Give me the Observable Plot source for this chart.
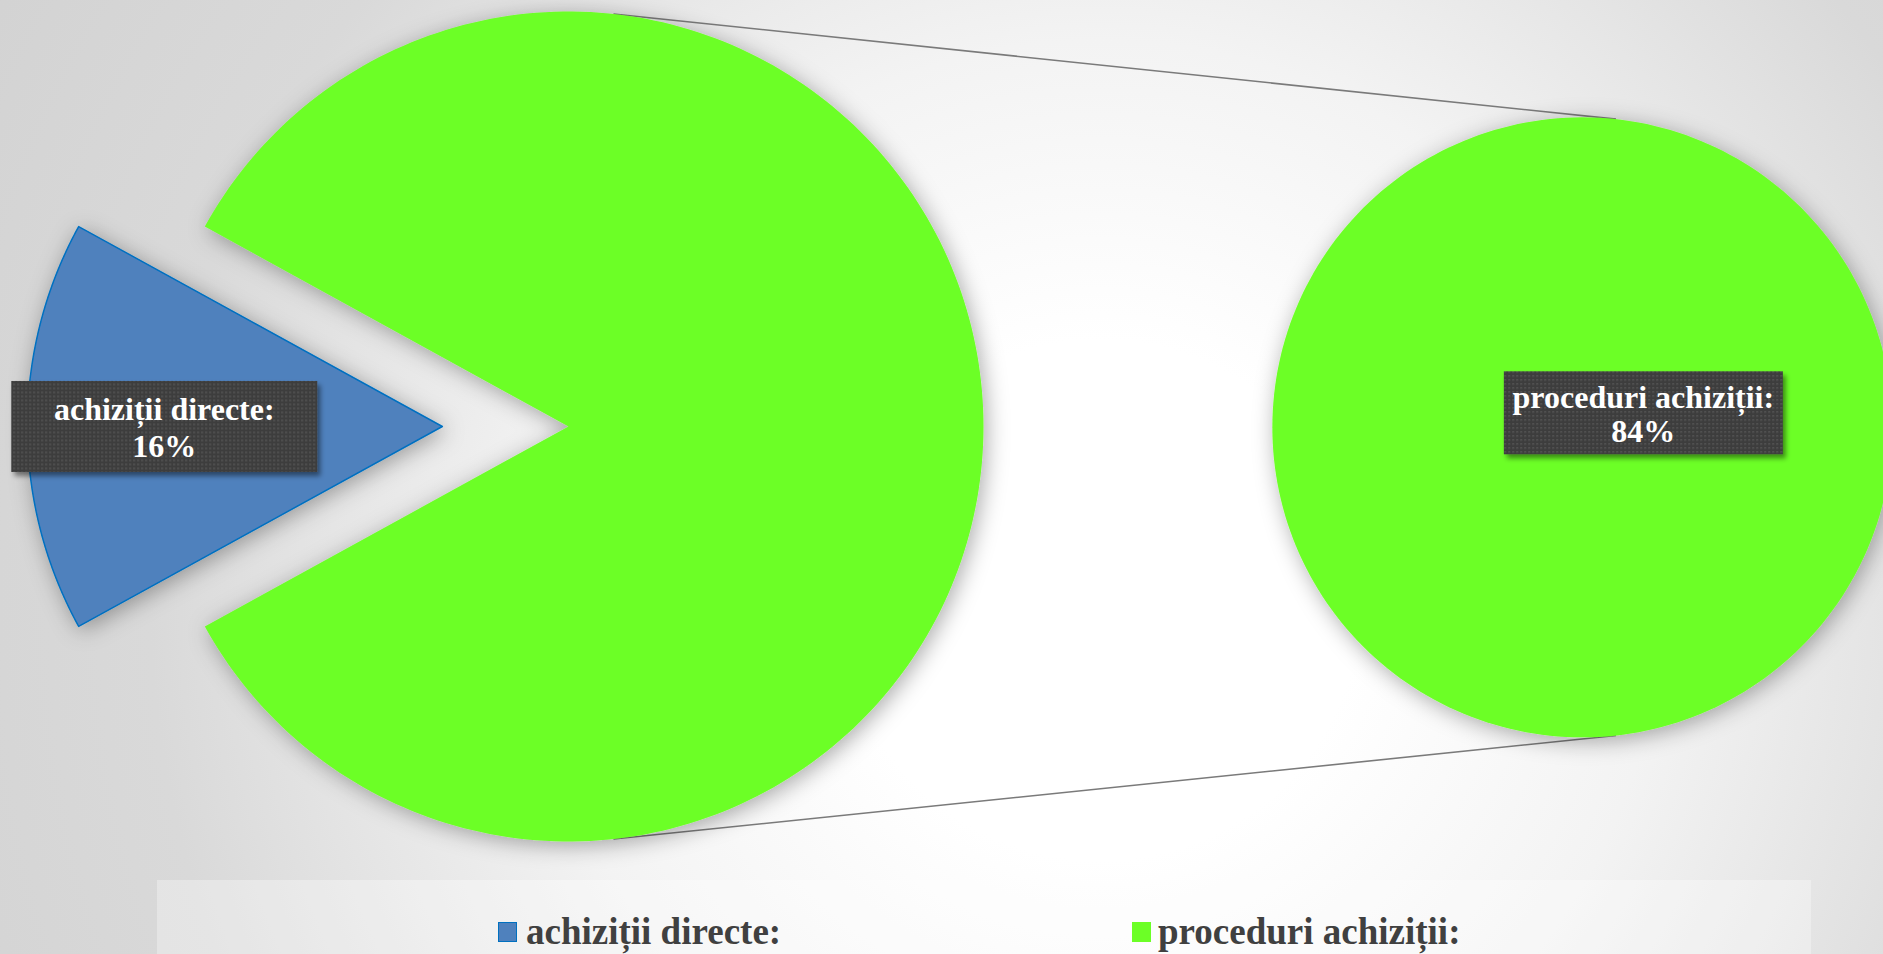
<!DOCTYPE html>
<html><head><meta charset="utf-8">
<script src="https://cdn.jsdelivr.net/npm/d3@7"></script>
<script src="https://cdn.jsdelivr.net/npm/@observablehq/plot@0.6"></script>
<style>
html,body{margin:0;padding:0;}
body{width:1883px;height:954px;overflow:hidden;position:relative;
 background:radial-gradient(circle at 1100px 600px,#ffffff 0px,#ffffff 260px,#f3f3f3 560px,#d9d9d9 950px,#d1d1d1 1350px);
 font-family:"Liberation Serif","Times New Roman",serif;}
#chart svg{display:block;}
#legend{position:relative;width:1883px;height:76px;}
#legend .box{position:absolute;left:157px;top:2px;width:1654px;height:90px;background:rgba(255,255,255,0.32);}
#legend .sw{position:absolute;width:19px;height:20px;box-sizing:border-box;}
#legend .tx{position:absolute;font-size:37px;line-height:37px;font-weight:bold;color:#404040;white-space:nowrap;}
</style></head>
<body>
<div id="chart"></div>
<div id="legend"><div class="box"></div></div>
<script>
// ---- data ----
const categories = ["achiziții directe:", "proceduri achiziții:"];
const values = [16, 84];
const valueLabels = ["16%", "84%"];
const secondCategories = ["proceduri achiziții:"];
const secondValues = [84];
const secondLabels = ["84%"];

// ---- styles / layout ----
const colors = ["#4f81bd", "#6cff26"];
const strokes = ["#0070c0", "none"];
const W = 1883, H = 878, PX = 415, CX = 568, CY = 426;
const explode = 0.304;          // fraction of radius for the pulled-out slice
const secondCenter = [2.443, -0.002], secondRadius = 0.747;
const connectorAngle = 0.1086;
const labelRadius = 0.67;
const secondLabelOffset = [0.147, 0.032];

const pie = d3.pie().sort(null)
  .startAngle(3 * Math.PI / 2 - Math.PI * values[0] / 100)
  .endAngle(3 * Math.PI / 2 - Math.PI * values[0] / 100 + 2 * Math.PI);
const arcs = pie(values);

function arcPoly(cx, cy, r, a0, a1) {
  const full = a1 - a0 >= 2 * Math.PI - 1e-6;
  const n = 240;
  const pts = [];
  if (!full) pts.push({x: cx, y: cy});
  for (let i = 0; i <= n; i++) {
    const a = a0 + (a1 - a0) * i / n;
    pts.push({x: cx + r * Math.sin(a), y: cy + r * Math.cos(a)});
  }
  if (!full) pts.push({x: cx, y: cy});
  return pts;
}

const slices = arcs.map((a, i) => {
  const mid = (a.startAngle + a.endAngle) / 2;
  const off = i === 0 ? explode : 0;
  const cx = off * Math.sin(mid), cy = off * Math.cos(mid);
  return {i, cx, cy, mid, pts: arcPoly(cx, cy, 1, a.startAngle, a.endAngle)};
});
const secondArcs = d3.pie().sort(null)(secondValues);
const secondSlices = secondArcs.map((a, j) => ({
  j, pts: arcPoly(secondCenter[0], secondCenter[1], secondRadius, a.startAngle, a.endAngle)
}));

const connectors = [connectorAngle, Math.PI - connectorAngle].map(a => ({
  x1: Math.sin(a), y1: Math.cos(a),
  x2: secondCenter[0] + secondRadius * Math.sin(a), y2: secondCenter[1] + secondRadius * Math.cos(a)
}));

const labelData = [
  {x: slices[0].cx + labelRadius * Math.sin(slices[0].mid), y: slices[0].cy + labelRadius * Math.cos(slices[0].mid),
   text: categories[0] + "\n" + valueLabels[0], lh: 1.17, bw: 306, bh: 91},
  {x: secondCenter[0] + secondLabelOffset[0], y: secondCenter[1] + secondLabelOffset[1],
   text: secondCategories[0] + "\n" + secondLabels[0], lh: 1.05, bw: 279, bh: 83}
];

const marks = [
  Plot.link(connectors, {x1: "x1", y1: "y1", x2: "x2", y2: "y2", stroke: "#7a7a7a", strokeWidth: 1.6}),
  ...slices.map(s => Plot.line(s.pts, {x: "x", y: "y", fill: colors[s.i], stroke: strokes[s.i], strokeWidth: 1.5, curve: "linear"})),
  ...secondSlices.map(s => Plot.line(s.pts, {x: "x", y: "y", fill: colors[1], stroke: "none", curve: "linear"})),
  ...labelData.map((d, k) => Plot.text([d], {x: "x", y: "y", text: "text", fill: "white", fontSize: 32, fontWeight: "bold",
     fontFamily: "Liberation Serif", lineHeight: d.lh, textAnchor: "middle", lineAnchor: "middle"}))
];

const svg = Plot.plot({
  width: W, height: H, margin: 0,
  x: {type: "linear", domain: [-CX / PX, (W - CX) / PX], axis: null},
  y: {type: "linear", domain: [(CY - H) / PX, CY / PX], axis: null},
  style: {background: "transparent", overflow: "visible", maxWidth: "none"},
  marks
});
document.getElementById("chart").appendChild(svg);

// defs: dotted pattern + shadows
const ns = "http://www.w3.org/2000/svg";
const defs = document.createElementNS(ns, "defs");
function el(tag, attrs, parent) {
  const e = document.createElementNS(ns, tag);
  for (const k in attrs) e.setAttribute(k, attrs[k]);
  if (parent) parent.appendChild(e);
  return e;
}
const pat = el("pattern", {id: "dots", width: 4, height: 4, patternUnits: "userSpaceOnUse"}, defs);
el("rect", {width: 4, height: 4, fill: "#3e3e3e"}, pat);
el("rect", {x: 1, y: 1, width: 1.6, height: 1.6, fill: "#585858"}, pat);
const f1 = el("filter", {id: "pieShadow", x: "-20%", y: "-20%", width: "140%", height: "140%"}, defs);
el("feDropShadow", {dx: 3, dy: 4, stdDeviation: 11, "flood-color": "#000", "flood-opacity": 0.33}, f1);
const f2 = el("filter", {id: "boxShadow", x: "-20%", y: "-30%", width: "140%", height: "160%"}, defs);
el("feDropShadow", {dx: 3, dy: 4, stdDeviation: 2.5, "flood-color": "#000", "flood-opacity": 0.45}, f2);
svg.insertBefore(defs, svg.firstChild);

svg.querySelectorAll('g[aria-label="line"]').forEach(g => g.setAttribute("filter", "url(#pieShadow)"));
const textGroups = svg.querySelectorAll('g[aria-label="text"]');
labelData.forEach((d, k) => {
  const g = textGroups[k];
  if (!g) return;
  const t = g.querySelector("text");
  const bb = t.getBBox();
  const cx = bb.x + bb.width / 2, cy = bb.y + bb.height / 2;
  const r = el("rect", {x: cx - d.bw / 2, y: cy - d.bh / 2 - 1, width: d.bw, height: d.bh, fill: "url(#dots)", filter: "url(#boxShadow)"});
  const tr = t.getAttribute("transform");
  if (tr) r.setAttribute("transform", tr);
  g.insertBefore(r, g.firstChild);
});

// legend
const legend = document.getElementById("legend");
const legendPos = [[498, 526], [1132, 1158]];
categories.forEach((c, i) => {
  const sw = document.createElement("div");
  sw.className = "sw";
  sw.style.left = legendPos[i][0] + "px";
  sw.style.top = "44px";
  sw.style.background = colors[i];
  if (strokes[i] !== "none") sw.style.border = "1.5px solid " + strokes[i];
  legend.appendChild(sw);
  const tx = document.createElement("div");
  tx.className = "tx";
  tx.style.left = legendPos[i][1] + "px";
  tx.style.top = "35px";
  tx.textContent = c;
  legend.appendChild(tx);
});
</script>
</body></html>
